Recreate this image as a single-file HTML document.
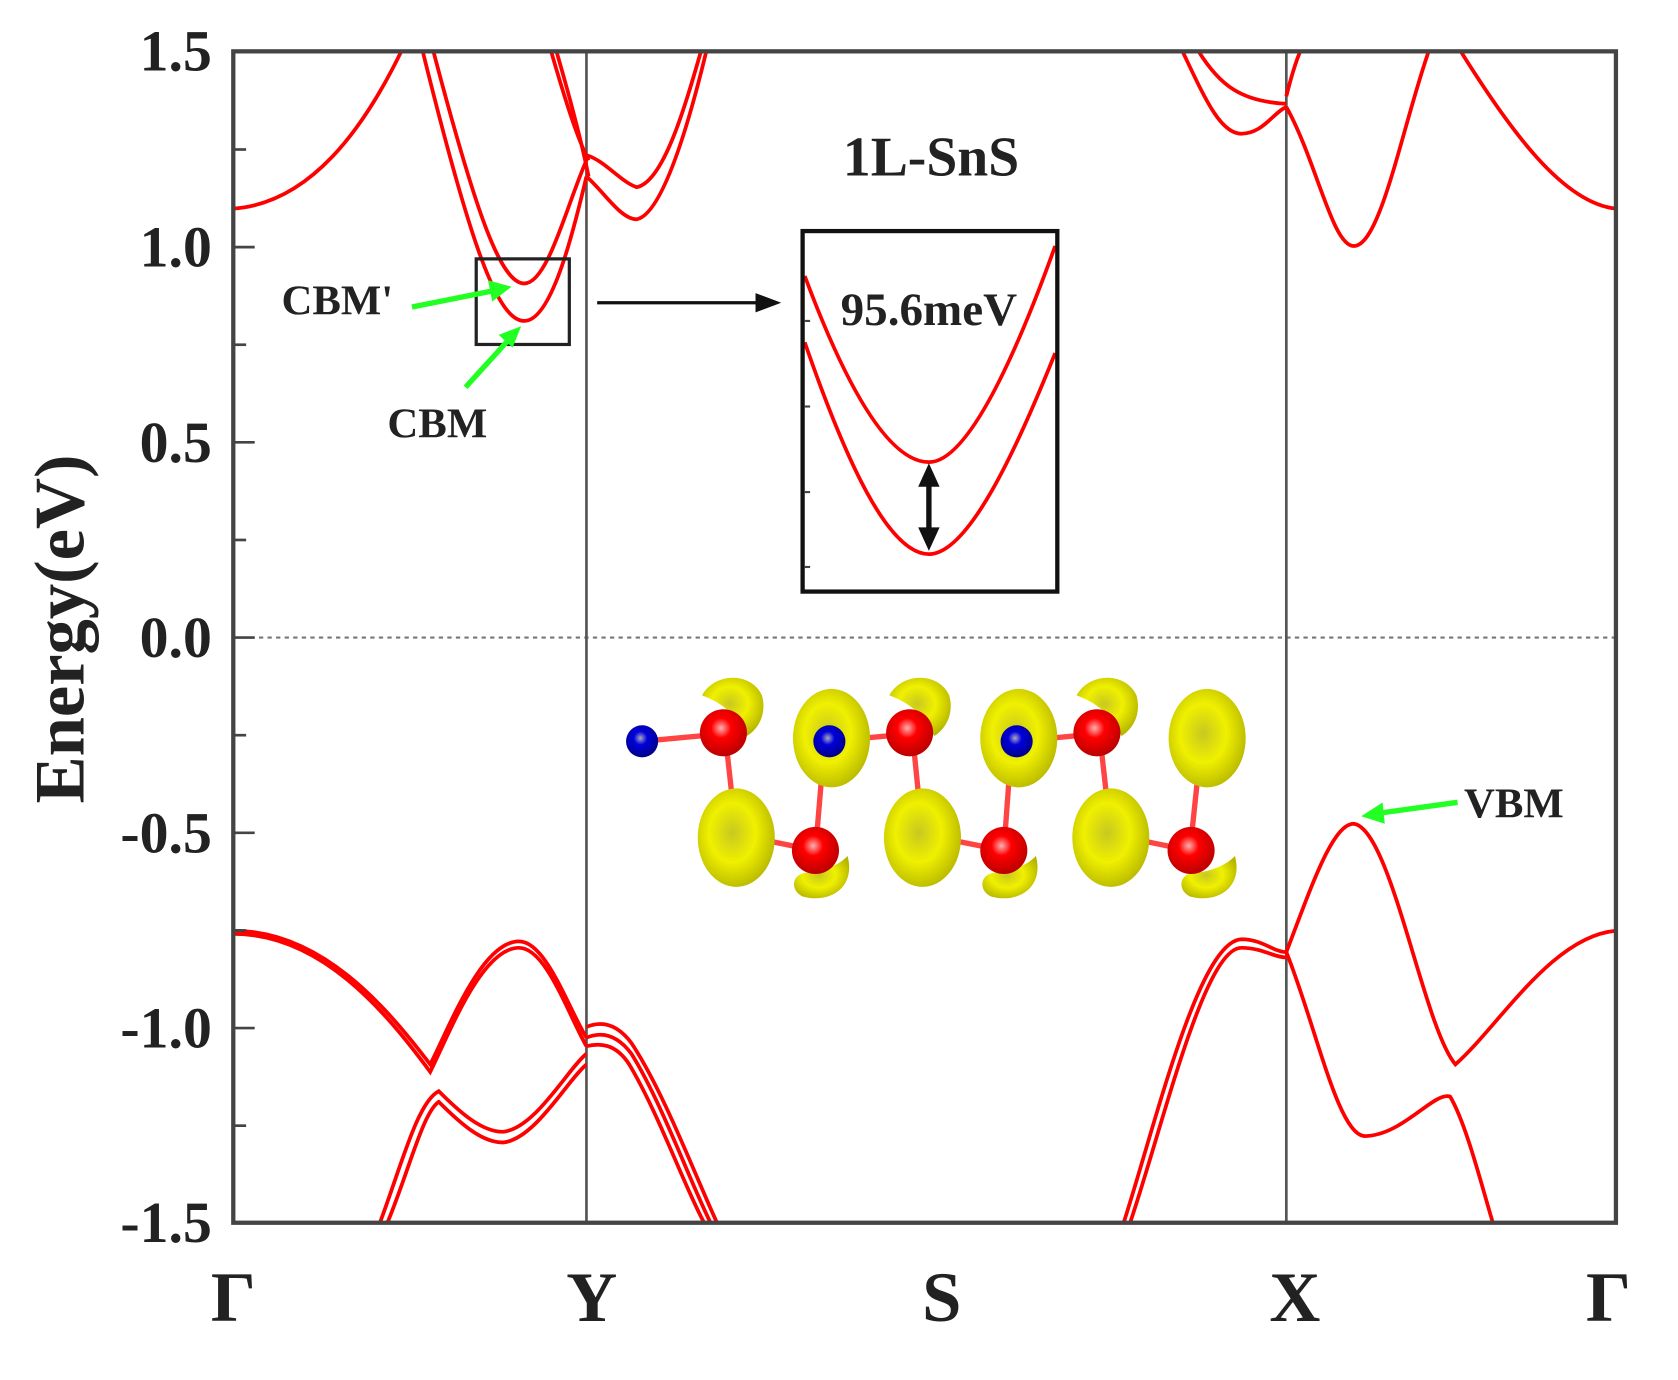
<!DOCTYPE html>
<html><head><meta charset="utf-8"><style>html,body{margin:0;padding:0;background:#fff}svg{display:block}</style></head>
<body>
<svg width="1678" height="1380" viewBox="0 0 1568 1290" preserveAspectRatio="none" xmlns="http://www.w3.org/2000/svg" font-family="Liberation Serif, serif" font-weight="bold">
<defs>
<radialGradient id="yl" cx="45%" cy="45%" r="60%"><stop offset="0" stop-color="#c8c820"/><stop offset="0.5" stop-color="#f0f000"/><stop offset="1" stop-color="#b5b500"/></radialGradient>
<radialGradient id="rd" cx="45%" cy="40%" r="60%"><stop offset="0" stop-color="#ffb0b0"/><stop offset="0.35" stop-color="#f00"/><stop offset="1" stop-color="#b00"/></radialGradient>
<radialGradient id="bl" cx="45%" cy="40%" r="60%"><stop offset="0" stop-color="#aab"/><stop offset="0.35" stop-color="#00d"/><stop offset="1" stop-color="#008"/></radialGradient>
</defs>
<line x1="218" y1="596" x2="1510" y2="596" stroke="#777" stroke-width="2" stroke-dasharray="4,4"/>
<line x1="548" y1="48" x2="548" y2="1143" stroke="#555" stroke-width="2.5"/>
<line x1="1202" y1="48" x2="1202" y2="1143" stroke="#555" stroke-width="2.5"/>
<g fill="none" stroke="#f00" stroke-width="3.5">
<path d="M218,195 C290,190 340,120 375,48"/>
<path d="M395,48 C440,230 465,300 490,300 C515,300 535,220 548,165"/>
<path d="M405,48 C445,200 468,265 490,265 C512,265 530,190 548,150"/>
<path d="M515,48 C530,100 540,130 550,150"/>
<path d="M520,48 C535,100 545,140 550,165"/>
<path d="M548,145 C565,150 580,170 595,175 C620,170 640,100 655,48"/>
<path d="M548,165 C565,180 580,205 595,205 C620,200 645,110 660,48"/>
<path d="M1105,48 C1125,90 1140,125 1160,125 C1180,125 1190,105 1202,100"/>
<path d="M1120,48 C1140,80 1160,95 1202,97"/>
<path d="M1202,100 C1230,150 1245,230 1265,230 C1290,230 1310,120 1335,48"/>
<path d="M1202,90 C1207,70 1212,55 1215,48"/>
<path d="M1510,195 C1460,190 1410,120 1365,48"/>
<path d="M218,870 C300,870 360,940 402,995 C420,960 450,880 485,880 C510,880 530,940 548,970"/>
<path d="M218,873 C300,873 360,945 402,1002 C420,966 450,886 485,886 C510,886 530,946 548,978"/>
<path d="M355,1143 C375,1090 390,1030 410,1020 C430,1040 450,1058 470,1058 C500,1055 530,1000 548,985"/>
<path d="M362,1143 C382,1095 395,1040 410,1030 C430,1050 450,1068 470,1068 C500,1065 530,1010 548,995"/>
<path d="M548,960 C560,955 575,955 590,975 C620,1020 650,1100 670,1143"/>
<path d="M548,970 C560,965 575,965 590,985 C618,1030 645,1105 664,1143"/>
<path d="M548,978 C560,975 575,975 588,995 C615,1040 640,1110 658,1143"/>
<path d="M1050,1143 C1080,1050 1120,880 1160,878 C1180,878 1190,890 1202,890"/>
<path d="M1056,1143 C1086,1055 1125,886 1160,886 C1180,886 1190,895 1202,895"/>
<path d="M1202,890 C1225,830 1245,770 1265,770 C1300,775 1330,960 1360,995 C1400,960 1450,875 1510,870"/>
<path d="M1202,890 C1230,960 1250,1060 1275,1062 C1310,1062 1340,1020 1355,1025 C1370,1050 1385,1110 1395,1143"/>
<path d="M752,258 C790,360 830,432 868,432 C905,432 950,330 986,230"/>
<path d="M752,320 C790,430 830,518 868,518 C905,518 950,420 986,330"/>
</g>
<rect x="218" y="48" width="1292" height="1095" fill="none" stroke="#444" stroke-width="4"/>
<g stroke="#444" stroke-width="2.5">
<line x1="218" y1="139.75" x2="230" y2="139.75"/><line x1="218" y1="322.25" x2="230" y2="322.25"/><line x1="218" y1="504.75" x2="230" y2="504.75"/><line x1="218" y1="687.25" x2="230" y2="687.25"/><line x1="218" y1="869.75" x2="230" y2="869.75"/><line x1="218" y1="1052.25" x2="230" y2="1052.25"/>
<line x1="218" y1="231" x2="238" y2="231"/><line x1="218" y1="413.5" x2="238" y2="413.5"/><line x1="218" y1="596" x2="238" y2="596"/><line x1="218" y1="778.5" x2="238" y2="778.5"/><line x1="218" y1="961" x2="238" y2="961"/>
</g>
<g font-size="54" text-anchor="end" fill="#222">
<text x="198" y="66">1.5</text><text x="198" y="249">1.0</text><text x="198" y="432">0.5</text><text x="198" y="614">0.0</text><text x="198" y="797">-0.5</text><text x="198" y="979">-1.0</text><text x="198" y="1161">-1.5</text>
</g>
<text transform="translate(78,588) rotate(-90)" font-size="66" text-anchor="middle" fill="#222">Energy(eV)</text>
<g font-size="66" text-anchor="middle" fill="#222">
<text x="218" y="1235">Γ</text><text x="553" y="1235">Y</text><text x="880" y="1235">S</text><text x="1210" y="1235">X</text><text x="1503" y="1235">Γ</text>
</g>
<text x="870" y="164" font-size="52" text-anchor="middle" fill="#222">1L-SnS</text>
<rect x="445" y="242" width="87" height="80" fill="none" stroke="#222" stroke-width="3"/>
<rect x="750" y="216" width="238" height="337" fill="none" stroke="#111" stroke-width="4"/>
<g stroke="#444" stroke-width="2"><line x1="752" y1="300" x2="757" y2="300"/><line x1="752" y1="380" x2="757" y2="380"/><line x1="752" y1="460" x2="757" y2="460"/><line x1="752" y1="530" x2="757" y2="530"/></g>
<text x="868" y="304" font-size="44" text-anchor="middle" fill="#222">95.6meV</text>
<line x1="558" y1="283" x2="710" y2="283" stroke="#111" stroke-width="3"/>
<polygon points="730,283 706,274 706,292" fill="#111"/>
<line x1="868" y1="445" x2="868" y2="505" stroke="#111" stroke-width="5"/>
<polygon points="868,433 858,455 878,455" fill="#111"/><polygon points="868,515 858,493 878,493" fill="#111"/>
<g font-size="40" fill="#222">
<text x="263" y="294">CBM'</text><text x="362" y="409">CBM</text><text x="1368" y="764">VBM</text>
</g>
<g stroke="#2f2" stroke-width="5" fill="#2f2">
<line x1="385" y1="287" x2="460" y2="272"/><polygon points="478,268 456,262 460,282" stroke="none"/>
<line x1="435" y1="362" x2="475" y2="318"/><polygon points="487,305 466,313 479,325" stroke="none"/>
<line x1="1362" y1="750" x2="1290" y2="760"/><polygon points="1272,763 1292,750 1294,770" stroke="none"/>
</g>
<g>
<g stroke="#f44" stroke-width="5"><line x1="600" y1="693" x2="675" y2="686"/><line x1="775" y1="693" x2="850" y2="686"/><line x1="950" y1="693" x2="1025" y2="686"/>
<line x1="678" y1="690" x2="688" y2="780"/><line x1="853" y1="690" x2="862" y2="780"/><line x1="1028" y1="690" x2="1038" y2="780"/>
<line x1="770" y1="700" x2="762" y2="795"/><line x1="945" y1="700" x2="938" y2="795"/><line x1="1122" y1="700" x2="1112" y2="795"/>
<line x1="688" y1="780" x2="762" y2="795"/><line x1="862" y1="780" x2="938" y2="795"/><line x1="1038" y1="780" x2="1112" y2="795"/></g>
<g fill="url(#yl)">
<ellipse cx="777" cy="690" rx="36" ry="46"/><ellipse cx="952" cy="690" rx="36" ry="46"/><ellipse cx="1128" cy="690" rx="36" ry="46"/>
<ellipse cx="688" cy="783" rx="36" ry="46"/><ellipse cx="862" cy="783" rx="36" ry="46"/><ellipse cx="1038" cy="783" rx="36" ry="46"/>
<path d="M656,650 C668,628 702,628 712,650 C717,668 708,682 698,688 C688,668 675,657 656,650Z"/>
<path d="M831,650 C843,628 877,628 887,650 C892,668 883,682 873,688 C863,668 850,657 831,650Z"/>
<path d="M1006,650 C1018,628 1052,628 1062,650 C1067,668 1058,682 1048,688 C1038,668 1025,657 1006,650Z"/>
<path d="M792,800 C800,830 775,845 750,838 C738,832 740,818 752,816 C770,815 785,808 792,800Z"/>
<path d="M968,800 C976,830 951,845 926,838 C914,832 916,818 928,816 C946,815 961,808 968,800Z"/>
<path d="M1154,800 C1162,830 1137,845 1112,838 C1100,832 1102,818 1114,816 C1132,815 1147,808 1154,800Z"/>
</g>
<g fill="url(#rd)">
<circle cx="676" cy="685" r="22"/><circle cx="850" cy="685" r="22"/><circle cx="1025" cy="685" r="22"/>
<circle cx="762" cy="795" r="22"/><circle cx="938" cy="795" r="22"/><circle cx="1113" cy="795" r="22"/>
</g>
<g fill="url(#bl)">
<circle cx="600" cy="693" r="15"/><circle cx="775" cy="693" r="15"/><circle cx="950" cy="693" r="15"/>
</g>
</g>
</svg>
</body></html>
